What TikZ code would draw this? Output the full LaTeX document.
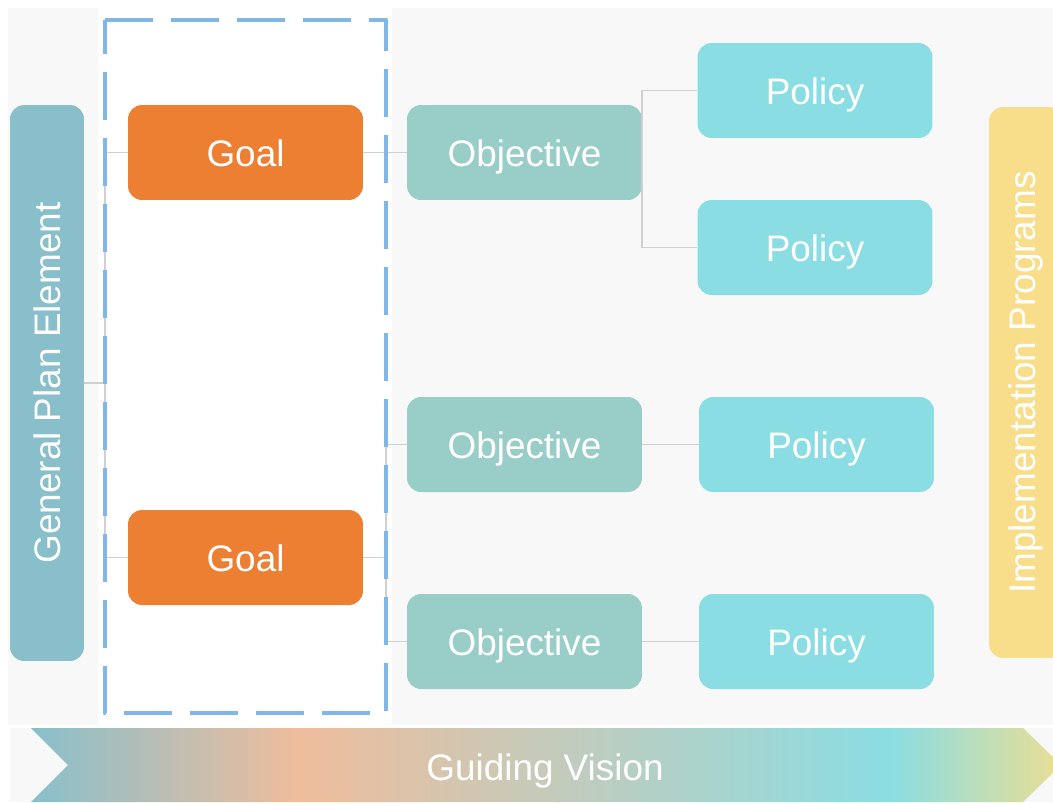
\documentclass[tikz,border=0pt]{standalone}
\usepackage{fontspec}
\setmainfont{Liberation Sans}

\definecolor{bggray}{HTML}{F8F8F8}
\definecolor{planblue}{HTML}{88BFCB}
\definecolor{goalorange}{HTML}{ED7F33}
\definecolor{objgreen}{HTML}{98CEC7}
\definecolor{polcyan}{HTML}{8ADDE3}
\definecolor{progyellow}{HTML}{F8DE8A}
\definecolor{dashblue}{HTML}{80B7E6}
\definecolor{linkgray}{HTML}{D0D0D0}
\definecolor{peach}{HTML}{EFBD9C}
\definecolor{sand}{HTML}{EADE94}

\pgfdeclarehorizontalshading{visionshade}{100bp}{color(0bp)=(planblue); color(25bp)=(planblue); color(38bp)=(peach); color(66.7bp)=(polcyan); color(75bp)=(sand); color(100bp)=(sand)}

\begin{document}
\begin{tikzpicture}[x=0.02cm, y=-0.02cm,
    box/.style={rounded corners=8pt, minimum width=4.7cm, minimum height=1.9cm, text=white, text height=17pt, text depth=0.8pt, font=\fontsize{21}{25}\selectfont},
    bar/.style={rounded corners=8pt, minimum width=1.48cm, text=white, font=\fontsize{21}{25}\selectfont},
    link/.style={draw=linkgray, line width=1.1pt}]
        \useasboundingbox (0,0) rectangle (1053,802);
        \fill[bggray] (8,8) rectangle (1053,725);
        \fill[white] (98,0) rectangle (392,725);
        \fill[bggray] (10,728) rectangle (1053,802);

        \node[bar, fill=planblue, minimum height=11.12cm] (plan) at (47,383) {\rotatebox{90}{General Plan Element}};
        \node[bar, fill=progyellow, minimum height=11.02cm] (progs) at (1026,382.5) {\rotatebox{90}{Implementation Programs}};

        \node[box, fill=goalorange] (goal1) at (245.5,152.5) {Goal};
        \node[box, fill=goalorange] (goal2) at (245.5,557.5) {Goal};

        \node[box, fill=objgreen] (obj1) at (524.5,152.5) {Objective};
        \node[box, fill=objgreen] (obj2) at (524.5,444.5) {Objective};
        \node[box, fill=objgreen] (obj3) at (524.5,641.5) {Objective};

        \node[box, fill=polcyan] (pol1) at (815,90.5) {Policy};
        \node[box, fill=polcyan] (pol2) at (815,247.5) {Policy};
        \node[box, fill=polcyan] (pol3) at (816.5,444.5) {Policy};
        \node[box, fill=polcyan] (pol4) at (816.5,641.5) {Policy};

        \coordinate (split1) at (105,383);
        \coordinate (split2) at (386,557.5);

        \draw[link] (plan) -- (split1);
        \draw[link] (goal1.west) -| (split1) |- (goal2.west);
        \draw[link] (goal1) -- (obj1);
        \draw[link] (goal2) -- (split2);
        \draw[link] (obj2.west) -| (split2) |- (obj3.west);
        \draw[link] (pol1.west) -| (obj1.east) |- (pol2.west);
        \draw[link] (obj2) -- (pol3);
        \draw[link] (obj3) -- (pol4);

        \draw[dashblue, line width=2.8pt, dash pattern=on 0.96cm off 0.36cm, line join=round] (105,20) -- (386,20) -- (386,713) -- (105,713) -- cycle;

        \shade[shading=visionshade] (31,728) -- (1023,728) -- (1061,765) -- (1023,802) -- (31,802) -- (68,765) -- cycle;
        \node[text=white, text height=17pt, text depth=0.8pt, font=\fontsize{21}{25}\selectfont] (vision) at (545,766) {Guiding Vision};
    \end{tikzpicture}
\end{document}
